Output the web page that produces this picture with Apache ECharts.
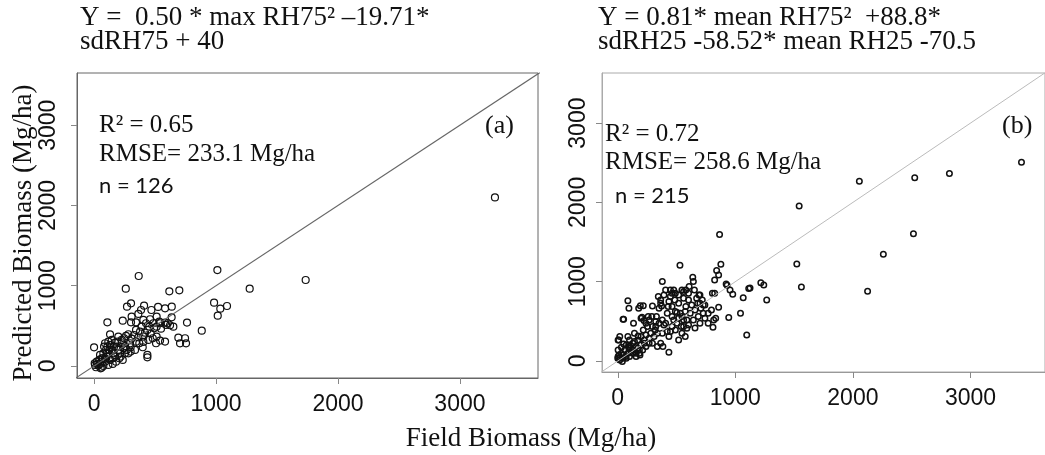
<!DOCTYPE html>
<html>
<head>
<meta charset="utf-8">
<script src="https://cdn.jsdelivr.net/npm/echarts@6/dist/echarts.min.js"></script>
<style>
html,body{margin:0;padding:0;background:#fff;}
#chart{width:1045px;height:455px;}
</style>
</head>
<body>
<div id="chart"></div>
<script>
// ---------------- data ----------------
const tickValues = [0, 1000, 2000, 3000];
const identityLine = [[-200, -200], [4000, 4000]];

const titleA = ["Y =  0.50 * max RH75\u00B2 \u201319.71*", "sdRH75 + 40"];
const titleB = ["Y = 0.81* mean RH75\u00B2  +88.8*", "sdRH25 -58.52* mean RH25 -70.5"];
const statsA = ["R\u00B2 = 0.65", "RMSE= 233.1 Mg/ha", "n = 126", "(a)"];
const statsB = ["R\u00B2 = 0.72", "RMSE= 258.6 Mg/ha", "n = 215", "(b)"];
const xName = "Field Biomass (Mg/ha)";
const yName = "Predicted Biomass (Mg/ha)";

// panel (a): field biomass, predicted biomass
const pointsA = [
[3287,2100],[1011,1195],[1735,1071],[1276,963],[366,1121],[260,963],[617,930],[699,942],
[984,789],[1035,714],[1090,747],[1014,627],[883,440],[762,540],[691,353],[746,345],
[705,282],[754,282],[437,137],[437,108],[0,232],[109,544],[131,394],[235,564],
[270,739],[303,780],[303,544],[344,544],[363,648],[385,697],[410,751],[470,697],
[525,735],[582,718],[637,739],[636,606],[604,532],[623,507],[513,615],[459,582],
[404,573],[426,532],[486,532],[535,552],[582,540],[390,490],[437,449],[513,490],
[549,465],[464,407],[363,357],[328,386],[281,395],[262,374],[295,283],[371,283],
[404,299],[508,283],[541,316],[582,304],[513,366],
[5,34],[8,13],[22,54],[35,5],[49,25],[63,-20],[76,0],[16,-16],[43,75],[71,96],
[90,54],[104,117],[117,158],[98,200],[82,241],[109,241],[131,262],[145,200],[158,158],
[172,117],[131,75],[153,25],[117,13],[186,241],[199,200],[213,158],[227,283],[240,220],
[207,96],[254,158],[268,200],[300,179],[227,324],[191,303],[145,324],[104,158],[76,158],
[63,96],[49,137],[90,96],[125,200],[164,241],[180,54],[27,25],[54,-29],
[199,366],[246,345],[172,291],[218,117],[235,75],[281,158],[153,96],[90,283],[117,303],
[308,615],[344,449],[377,428],[418,415],[453,490],[492,469],[541,532],[590,511],
[650,490],[404,366],[445,324],[481,345],[344,303],[300,233],[399,233],[336,200],
[254,249],[308,341]
];

// panel (b): field biomass, predicted biomass
const pointsB = [
[3434,2506],[2821,2363],[2526,2312],[2055,2266],[2515,1606],[2259,1346],[2125,879],
[1543,1955],[1523,1224],[1562,934],[866,1594],[877,1220],[841,1140],[858,1085],[824,1022],
[529,1207],[379,1001],[638,1056],[643,1001],[652,896],[1217,988],[1242,959],[1267,770],
[1114,913],[1125,921],[1067,799],[1044,602],[1097,329],[944,547],[955,896],[978,841],
[922,972],[930,955],[858,677],[824,854],[816,518],[833,539],[810,425],[769,476],
[699,476],[657,417],[727,602],[707,665],[699,728],[719,770],
[602,770],[579,686],[560,791],[518,728],[490,854],[476,896],[435,749],[462,686],
[504,610],[546,560],[588,518],[616,602],[540,434],[588,413],[518,265],[435,308],
[407,476],[421,602],[379,518],[351,665],[365,728],[345,812],[393,833],[407,896],
[448,812],[485,770],[329,560],[351,476],[323,434],[379,350],[421,371],[309,308],
[365,224],[281,350],[253,434],[267,518],[290,560],[240,476],[217,392],[198,539],
[267,287],[226,265],[295,224],[337,182],[435,110],[384,182],[337,350],[318,392],
[462,434],[504,476],[560,518],[532,602],[490,623],[574,623],[462,560],[448,371],
[490,392],[546,350],[574,308],[198,308],[170,265],[142,350],[128,224],[156,182],
[184,140],[100,182],[72,203],[128,140],[86,97],[59,140],[31,97],[3,55],[17,13],
[45,34],[11,76],[3,140],[8,265],[50,526],[86,761],[95,665],[31,173],[114,118],
[156,97],[189,76],[67,55],[95,161],[50,215],[3,265],[17,308],[45,526],[86,308],
[134,476],[95,203],[192,698],[259,560],[178,665],[206,551],[223,509],[240,329],
[100,265],[142,245],[173,316],[39,-8],[0,34],[217,698],[295,694],[365,770],
[373,694],[429,686],[448,896],[462,854],[560,875],[579,896],[671,791],[691,833],
[727,707],[741,707],[805,854],
[17,34],[45,76],[72,34],[100,55],[128,97],[156,55],[184,97],[212,140],[240,182],
[267,224],[170,161],[198,203],[226,224],
[295,434],[323,497],[393,455],[476,518],[518,539],[560,434],[602,455],[643,518],
[685,560],[657,644],[629,707],[680,728],[602,854],[546,896],[518,833],[607,938],
[699,833],[769,602],[797,644],[741,539]
];

// ---------------- chart ----------------
const serif = '"Liberation Serif", "Times New Roman", serif';
const sans = '"Liberation Sans", Arial, sans-serif';

function axisCommon(min, max, lineColor, isY, margin) {
  return {
    type: 'value', min: min, max: max,
    axisLine: { show: true, onZero: false, lineStyle: { color: lineColor, width: 1 } },
    axisTick: { show: true, inside: false, length: 6, customValues: tickValues,
                lineStyle: { color: '#888', width: 1 } },
    axisLabel: { show: true, customValues: tickValues, rotate: isY ? 90 : 0,
                 margin: margin, fontFamily: sans, fontSize: 23, color: '#111',
                 formatter: function (v) { return String(v); } },
    splitLine: { show: false }
  };
}

function txt(x, y, text, font, opts) {
  return Object.assign({
    type: 'text', x: x, y: y, silent: true,
    style: { text: text, font: font, fill: '#111', align: 'left', verticalAlign: 'middle' }
  }, opts || {});
}

const graphics = [
  txt(80, 27 - 9, titleA[0], '27px ' + serif),
  txt(80, 51 - 9, titleA[1], '27px ' + serif),
  txt(598, 27 - 9, titleB[0], '27px ' + serif),
  txt(598, 51 - 9, titleB[1], '27px ' + serif),
  txt(99, 133 - 8, statsA[0], '25px ' + serif),
  txt(99, 162 - 8, statsA[1], '25px ' + serif),
  txt(99, 194 - 8, statsA[2], '22px Lato, ' + sans),
  txt(485, 135 - 9, statsA[3], '26px ' + serif),
  txt(605, 142 - 8, statsB[0], '25px ' + serif),
  txt(605, 170 - 8, statsB[1], '25px ' + serif),
  txt(615, 204 - 8, statsB[2], '22px Lato, ' + sans),
  txt(1002, 135 - 9, statsB[3], '26px ' + serif),
  { type: 'text', x: 531, y: 448 - 9, silent: true,
    style: { text: xName, font: '27px ' + serif, fill: '#111', align: 'center', verticalAlign: 'middle' } },
  { type: 'text', x: 24, y: 233, rotation: Math.PI / 2, silent: true,
    style: { text: yName, font: '27px ' + serif, fill: '#111', align: 'center', verticalAlign: 'middle' } }
];

const chart = echarts.init(document.getElementById('chart'), null, { renderer: 'canvas' });
chart.setOption({
  animation: false,
  backgroundColor: '#fff',
  grid: [
    { left: 77, top: 73, width: 461, height: 305, show: true, borderColor: '#666', borderWidth: 1 },
    { left: 602, top: 73, width: 451, height: 299, show: true, borderColor: '#aaa', borderWidth: 1 }
  ],
  xAxis: [
    Object.assign(axisCommon(-140, 3640, '#666', false, 15), { gridIndex: 0 }),
    Object.assign(axisCommon(-134, 3634, '#999', false, 15), { gridIndex: 1 })
  ],
  yAxis: [
    Object.assign(axisCommon(-150, 3650, '#666', true, 17), { gridIndex: 0 }),
    Object.assign(axisCommon(-139, 3632, '#aaa', true, 12), { gridIndex: 1 })
  ],
  series: [
    { type: 'line', xAxisIndex: 0, yAxisIndex: 0, data: identityLine, symbol: 'none',
      silent: true, clip: true, lineStyle: { color: '#666', width: 1.2 } },
    { type: 'line', xAxisIndex: 1, yAxisIndex: 1, data: identityLine, symbol: 'none',
      silent: true, clip: true, lineStyle: { color: '#bbb', width: 1 } },
    { type: 'scatter', xAxisIndex: 0, yAxisIndex: 0, data: pointsA, symbol: 'circle',
      symbolSize: 7, itemStyle: { color: 'rgba(0,0,0,0)', borderColor: '#111', borderWidth: 1.2, opacity: 1 } },
    { type: 'scatter', xAxisIndex: 1, yAxisIndex: 1, data: pointsB, symbol: 'circle',
      symbolSize: 5.5, itemStyle: { color: 'rgba(0,0,0,0)', borderColor: '#111', borderWidth: 1.5, opacity: 1 } }
  ],
  graphic: graphics
});
</script>
</body>
</html>
